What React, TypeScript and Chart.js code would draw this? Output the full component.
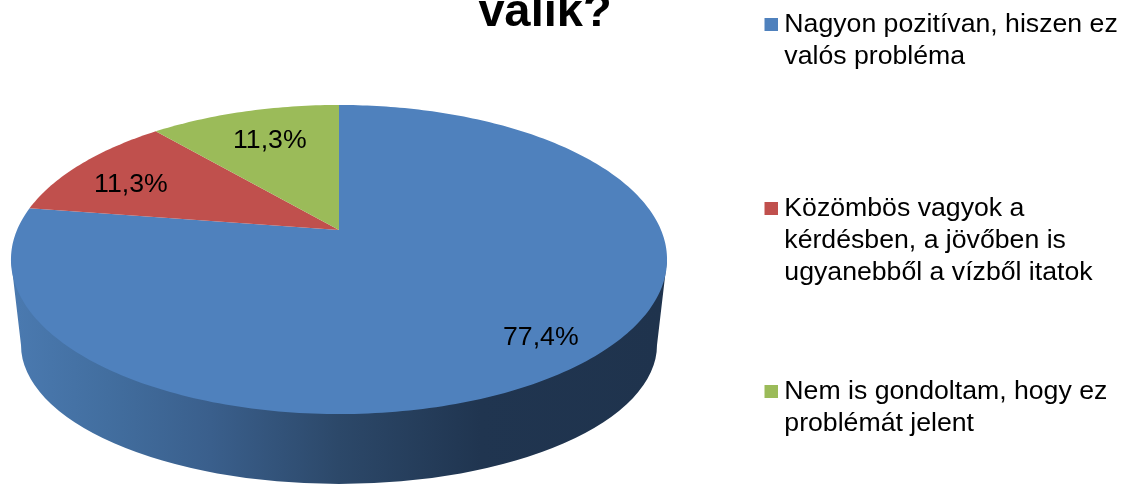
import React, { useEffect, useRef } from "react";
import { Chart, registerables, ArcElement, PieController } from "chart.js";

const categories = [
  ["Nagyon pozitívan, hiszen ez", "valós probléma", ""],
  ["Közömbös vagyok a", "kérdésben, a jövőben is", "ugyanebből a vízből itatok"],
  ["Nem is gondoltam, hogy ez", "problémát jelent"],
];
const values = [77.4, 11.3, 11.3];
const colors = ["#4F81BD", "#C0504D", "#9BBB59"];
const titleText = "válik?";

const FONT = "'Liberation Sans', Arial, sans-serif";
const APEX = { x: 339, y: 230 };
const PROJ = { a: 322, b: 148.9, p: -0.191 };
const LABEL_R = [0.844, 0.793, 0.695];
const LABEL_DY = [-1, 8, -3];

function project(angle: number, r: number) {
  const u = Math.cos(angle) * r;
  const v = Math.sin(angle) * r;
  const w = 1 + PROJ.p * v;
  return { x: APEX.x + (PROJ.a * u) / w, y: APEX.y + (PROJ.b * v) / w };
}

class PerspectiveArc extends ArcElement {
  static id = "perspectiveArc";
  draw(ctx: CanvasRenderingContext2D) {
    const start = (this as any).startAngle as number;
    const end = (this as any).endAngle as number;
    const steps = Math.max(8, Math.ceil(((end - start) / (Math.PI * 2)) * 360));
    ctx.save();
    ctx.beginPath();
    ctx.moveTo(APEX.x, APEX.y);
    for (let i = 0; i <= steps; i++) {
      const p = project(start + ((end - start) * i) / steps, 1);
      ctx.lineTo(p.x, p.y);
    }
    ctx.closePath();
    ctx.fillStyle = (this as any).options.backgroundColor;
    ctx.fill();
    ctx.restore();
  }
}

class PerspectivePie extends PieController {
  static id = "perspectivePie";
  static defaults = { dataElementType: "perspectiveArc" };
}

Chart.register(...registerables, PerspectiveArc, PerspectivePie);

const wallPlugin = {
  id: "wall",
  beforeDatasetsDraw(chart: any) {
    const ctx: CanvasRenderingContext2D = chart.ctx;
    const g = ctx.createLinearGradient(18, 0, 660, 0);
    g.addColorStop(0, "#4A79AF");
    g.addColorStop(0.14, "#426E9F");
    g.addColorStop(0.3, "#3A5F8C");
    g.addColorStop(0.5, "#2C4869");
    g.addColorStop(0.72, "#203550");
    g.addColorStop(1, "#1F334D");
    ctx.save();
    ctx.beginPath();
    ctx.moveTo(11, 260);
    ctx.lineTo(21, 345);
    ctx.ellipse(339, 345, 318, 139, 0, Math.PI, 0, true);
    ctx.lineTo(667, 260);
    ctx.closePath();
    ctx.fillStyle = g;
    ctx.fill();
    ctx.restore();
  },
};

const labelPlugin = {
  id: "sliceLabels",
  afterDatasetsDraw(chart: any) {
    const ctx: CanvasRenderingContext2D = chart.ctx;
    const meta = chart.getDatasetMeta(0);
    ctx.save();
    ctx.font = `26.67px ${FONT}`;
    ctx.fillStyle = "#000";
    ctx.textAlign = "center";
    ctx.textBaseline = "middle";
    meta.data.forEach((arc: any, i: number) => {
      const p = project((arc.startAngle + arc.endAngle) / 2, LABEL_R[i]);
      const text = values[i].toFixed(1).replace(".", ",") + "%";
      ctx.fillText(text, p.x, p.y + LABEL_DY[i]);
    });
    ctx.restore();
  },
};

const placePlugin = {
  id: "placeBlocks",
  afterLayout(chart: any) {
    const t = chart.titleBlock;
    const tw = t.right - t.left;
    t.left = 545 - tw / 2;
    t.right = 545 + tw / 2;
    t.top = -15;
    const l = chart.legend;
    const lw = l.right - l.left;
    l.left = 676.5;
    l.right = 676.5 + lw;
    l.top = -76;
    l.bottom = 600;
  },
};

function swatch(color: string) {
  const c = document.createElement("canvas");
  c.width = 20;
  c.height = 13;
  const x = c.getContext("2d")!;
  x.fillStyle = color;
  x.fillRect(7, 0, 13, 13);
  return c;
}

export default function App() {
  const ref = useRef<HTMLCanvasElement>(null);
  useEffect(() => {
    const chart = new Chart(ref.current!, {
      type: "perspectivePie" as any,
      data: {
        labels: categories as any,
        datasets: [{ data: values, backgroundColor: colors, borderWidth: 0 }],
      },
      plugins: [wallPlugin, labelPlugin, placePlugin],
      options: {
        responsive: false,
        animation: false,
        devicePixelRatio: 1,
        maintainAspectRatio: false,
        layout: { padding: 0 },
        plugins: {
          tooltip: { enabled: false },
          title: {
            display: true,
            text: titleText,
            color: "#000",
            font: { family: FONT, size: 47, weight: "bold" },
            padding: 0,
          },
          legend: {
            position: "right",
            align: "start",
            labels: {
              usePointStyle: true,
              pointStyleWidth: 7,
              boxHeight: 13,
              padding: 87.5,
              color: "#000",
              font: { family: FONT, size: 26.67 },
              generateLabels: () =>
                categories.map((text, i) => ({
                  text,
                  fillStyle: colors[i],
                  strokeStyle: colors[i],
                  lineWidth: 0,
                  pointStyle: swatch(colors[i]),
                  hidden: false,
                  index: i,
                })) as any,
            },
          },
        },
      } as any,
    });
    return () => chart.destroy();
  }, []);
  return (
    <canvas
      ref={ref}
      width={1123}
      height={484}
      style={{ position: "absolute", left: 0, top: 0, display: "block", filter: "blur(0.4px)" }}
    />
  );
}
